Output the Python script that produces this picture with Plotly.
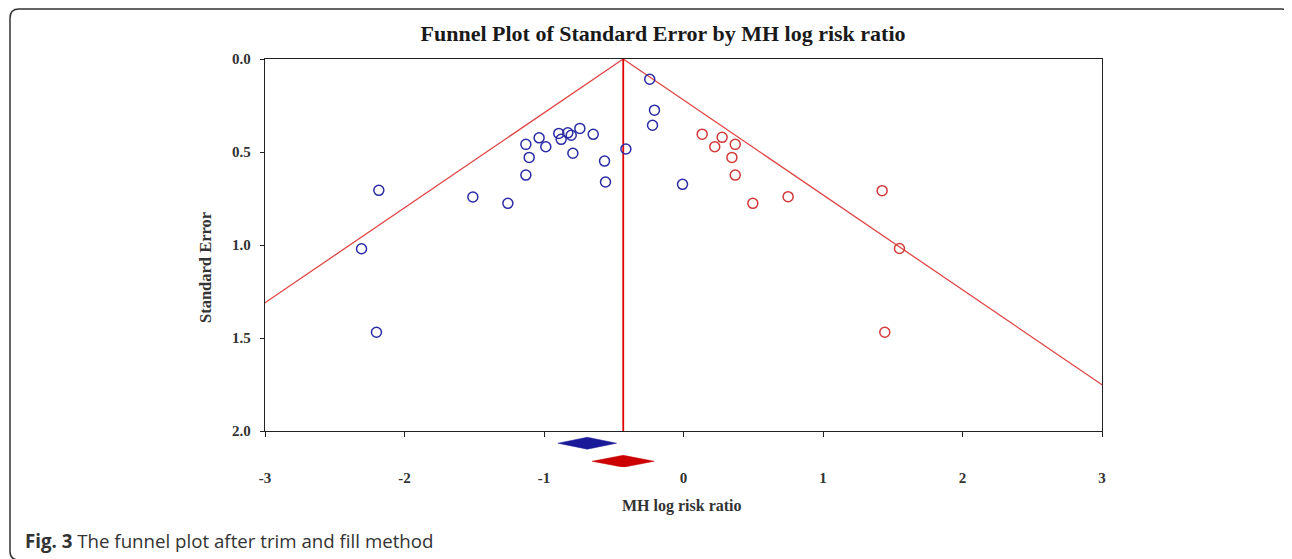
import plotly.graph_objects as go

# ---------------- data ----------------
blue_x = [-0.242, -0.208, -0.222, -0.743, -0.647, -0.894, -0.829, -0.805, -0.877, -1.035,
          -0.987, -1.130, -1.106, -0.793, -0.413, -0.566, -1.130, -0.559, -0.007, -2.184,
          -1.510, -1.259, -2.308, -2.201]
blue_se = [0.109, 0.275, 0.356, 0.373, 0.405, 0.400, 0.397, 0.410, 0.432, 0.424,
           0.472, 0.459, 0.529, 0.507, 0.484, 0.549, 0.624, 0.661, 0.674, 0.706,
           0.742, 0.776, 1.020, 1.469]
red_x = [0.134, 0.277, 0.224, 0.371, 0.347, 0.371, 0.750, 0.497, 1.424, 1.548, 1.443]
red_se = [0.404, 0.421, 0.472, 0.459, 0.529, 0.624, 0.740, 0.776, 0.708, 1.019, 1.469]

# pooled estimates (lower CI, estimate, upper CI)
observed_est = [-0.90, -0.69, -0.48]
adjusted_est = [-0.655, -0.432, -0.21]

x_ticks = [-3, -2, -1, 0, 1, 2, 3]
y_ticks = [0.0, 0.5, 1.0, 1.5, 2.0]
y_ticklabels = ["0.0", "0.5", "1.0", "1.5", "2.0"]
se_max = 2.0
z = 1.96

# ---------------- layout geometry ----------------
OFF = 8  # page offset of the figure (default body margin)
W, H = 1284, 551
ML, MR, MT, MB = 257, 190, 51, 92
PW, PH = W - ML - MR, H - MT - MB


def px(x):
    """page pixel x -> paper"""
    return (x - OFF - ML) / PW


def py(y):
    """page pixel y -> paper"""
    return (H - MB - (y - OFF)) / PH


serif = "Liberation Serif, Times New Roman, serif"
blue_c = "#2b2ba6"
red_c = "#d23a3a"

fig = go.Figure()

# funnel lines
est = adjusted_est[1]
fig.add_trace(go.Scatter(
    x=[est - z * se_max, est, est + z * se_max], y=[se_max, 0, se_max],
    mode="lines", line=dict(color="#e04848", width=1.3), hoverinfo="skip",
    xaxis="x", yaxis="y"))
fig.add_trace(go.Scatter(
    x=[est, est], y=[0, se_max], mode="lines",
    line=dict(color="#e00000", width=1.8), hoverinfo="skip",
    xaxis="x", yaxis="y"))

# studies
fig.add_trace(go.Scatter(
    x=blue_x, y=blue_se, mode="markers",
    marker=dict(symbol="circle-open", size=10, color=blue_c, line=dict(width=1.5)),
    xaxis="x", yaxis="y"))
fig.add_trace(go.Scatter(
    x=red_x, y=red_se, mode="markers",
    marker=dict(symbol="circle-open", size=10, color=red_c, line=dict(width=1.5)),
    xaxis="x", yaxis="y"))

# diamonds
half_h = 0.33
for vals, row, col in [(observed_est, 2, "#1a1a99"), (adjusted_est, 1, "#cc0000")]:
    lo, mid, hi = vals
    fig.add_trace(go.Scatter(
        x=[lo, mid, hi, mid, lo], y=[row, row + half_h, row, row - half_h, row],
        mode="lines", fill="toself", fillcolor=col, line=dict(color=col, width=0.5),
        xaxis="x2", yaxis="y2", hoverinfo="skip"))

main_bottom = (H - MB - (431 - OFF)) / PH
fig.update_layout(
    width=W, height=H, showlegend=False,
    plot_bgcolor="white", paper_bgcolor="white",
    margin=dict(l=ML, r=MR, t=MT, b=MB, autoexpand=False),
    title=dict(text="<b>Funnel Plot of Standard Error by MH log risk ratio</b>",
               x=(663 - OFF) / W, xanchor="center", y=1 - (33 - OFF) / H, yanchor="middle",
               font=dict(family=serif, size=22, color="#1a1a1a")),
    xaxis=dict(domain=[0, 1], range=[-3, 3], anchor="y", tickvals=x_ticks,
               showticklabels=False, ticks="outside", ticklen=5, tickcolor="#222",
               showline=True, linecolor="#222", linewidth=1.3, mirror=True,
               showgrid=False, zeroline=False),
    yaxis=dict(domain=[main_bottom, 1], range=[se_max, 0], anchor="x",
               tickvals=y_ticks, ticktext=["<b>%s</b>" % t for t in y_ticklabels],
               ticks="outside", ticklen=4, tickcolor="#222", ticklabelstandoff=6,
               tickfont=dict(family=serif, size=15, color="#333"),
               showline=True, linecolor="#222", linewidth=1.3, mirror=True,
               showgrid=False, zeroline=False),
    xaxis2=dict(overlaying="x", matches="x", anchor="y2", range=[-3, 3],
                tickvals=x_ticks, ticktext=["<b>%d</b>" % t for t in x_ticks],
                ticks="", showline=False, showgrid=False, zeroline=False,
                tickfont=dict(family=serif, size=15, color="#333")),
    yaxis2=dict(domain=[0, main_bottom - 0.008], range=[0.683, 2.495], anchor="x2",
                visible=False, showgrid=False, zeroline=False),
)

# axis titles
fig.add_annotation(text="<b>MH log risk ratio</b>", xref="paper", yref="paper",
                   x=px(682), y=py(506), xanchor="center", yanchor="middle",
                   showarrow=False, font=dict(family=serif, size=16, color="#333"))
fig.add_annotation(text="<b>Standard Error</b>", xref="paper", yref="paper",
                   x=px(205), y=py(268), xanchor="center", yanchor="middle",
                   textangle=-90, showarrow=False,
                   font=dict(family=serif, size=16.5, color="#333"))

# caption
fig.add_annotation(text="<b>Fig. 3</b> The funnel plot after trim and fill method",
                   xref="paper", yref="paper", x=px(23), y=py(540),
                   xanchor="left", yanchor="middle", showarrow=False,
                   font=dict(family="Open Sans, sans-serif", size=18.7, color="#333"))

# rounded outer frame
x0, x1, y0, y1, r = px(10), px(1290), py(9), py(560), 9
rx, ry = r / PW, r / PH
path = (f"M {x0 + rx} {y0} L {x1 - rx} {y0} Q {x1} {y0} {x1} {y0 - ry} "
        f"L {x1} {y1 + ry} Q {x1} {y1} {x1 - rx} {y1} "
        f"L {x0 + rx} {y1} Q {x0} {y1} {x0} {y1 + ry} "
        f"L {x0} {y0 - ry} Q {x0} {y0} {x0 + rx} {y0} Z")
fig.add_shape(type="path", path=path, xref="paper", yref="paper",
              line=dict(color="#333", width=1.5), layer="above")

fig.write_html("out.html")
